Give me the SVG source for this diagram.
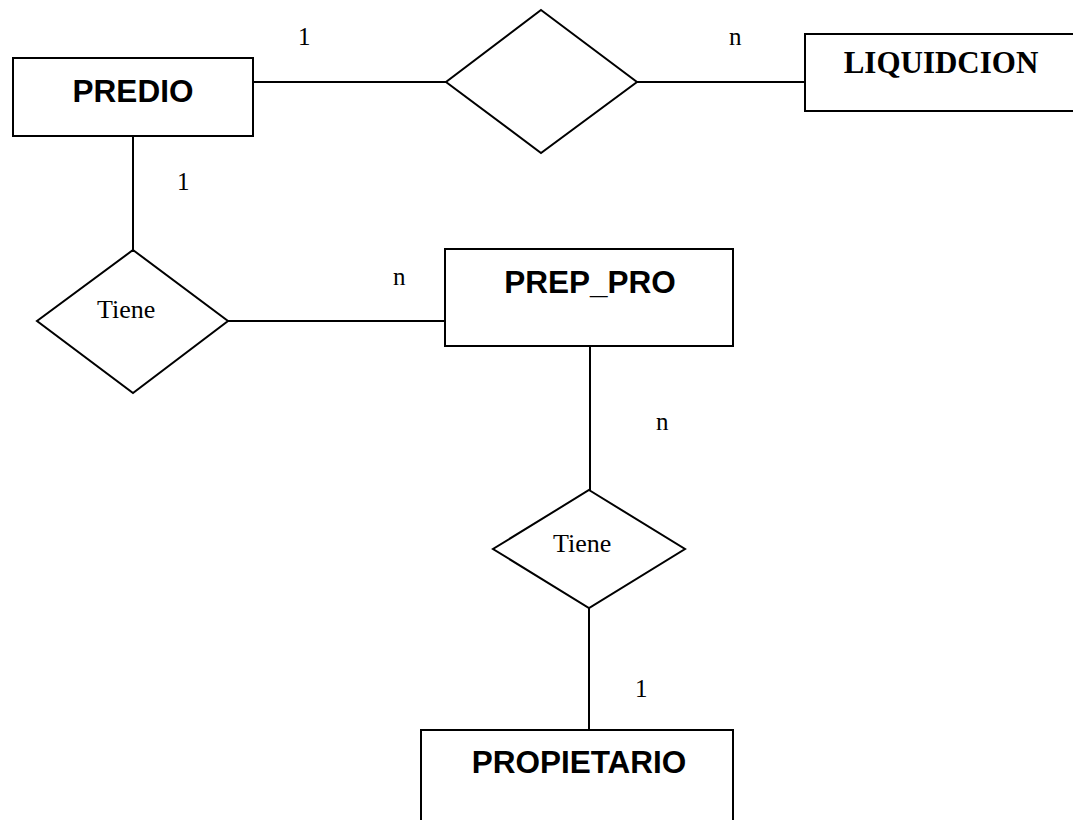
<svg xmlns="http://www.w3.org/2000/svg" width="1073" height="820" viewBox="0 0 1073 820">
  <style>
    .shape { fill: #ffffff; stroke: #000000; stroke-width: 2; }
    .link { fill: none; stroke: #000000; stroke-width: 2; }
    .entity { font-family: "Liberation Sans", Arial, sans-serif; font-weight: bold; font-size: 31.5px; fill: #000; }
    .entity-serif { font-family: "Liberation Serif", "Times New Roman", serif; font-weight: bold; font-size: 31px; fill: #000; }
    .rel { font-family: "Liberation Serif", "Times New Roman", serif; font-size: 26px; fill: #000; }
    .card { font-family: "Liberation Serif", "Times New Roman", serif; font-size: 25px; fill: #000; }
  </style>
  <rect width="1073" height="820" fill="#ffffff"/>

  <!-- connectors -->
  <g id="connectors">
    <line class="link" x1="253" y1="82" x2="446" y2="82"/>
    <line class="link" x1="637" y1="82" x2="812" y2="82"/>
    <line class="link" x1="133" y1="129" x2="133" y2="250"/>
    <line class="link" x1="228" y1="321" x2="445" y2="321"/>
    <line class="link" x1="590" y1="346" x2="590" y2="490"/>
    <line class="link" x1="589" y1="608" x2="589" y2="730"/>
  </g>

  <!-- cardinality labels -->
  <g id="cardinalities">
    <text class="card" x="298" y="45">1</text>
    <text class="card" x="729" y="45">n</text>
    <text class="card" x="177" y="190">1</text>
    <text class="card" x="393" y="285">n</text>
    <text class="card" x="656" y="430">n</text>
    <text class="card" x="635" y="697">1</text>
  </g>

  <g id="predio">
    <rect class="shape" x="13" y="58" width="240" height="78"/>
    <text class="entity" x="133" y="102" text-anchor="middle">PREDIO</text>
  </g>

  <g id="rel-liquidacion">
    <polygon class="shape" points="541,10 637,82 541,153 446,82"/>
  </g>

  <g id="liquidcion">
    <rect class="shape" x="805" y="34" width="280" height="77"/>
    <text class="entity-serif" x="941" y="73" text-anchor="middle">LIQUIDCION</text>
  </g>

  <g id="rel-tiene-predio">
    <polygon class="shape" points="133,250 228,321 133,393 37,321"/>
    <text class="rel" x="97" y="318">Tiene</text>
  </g>

  <g id="prep-pro">
    <rect class="shape" x="445" y="249" width="288" height="97"/>
    <text class="entity" x="590" y="293" text-anchor="middle">PREP_PRO</text>
  </g>

  <g id="rel-tiene-propietario">
    <polygon class="shape" points="589,490 685,549 589,608 493,549"/>
    <text class="rel" x="553" y="552">Tiene</text>
  </g>

  <g id="propietario">
    <rect class="shape" x="421" y="730" width="312" height="100"/>
    <text class="entity" x="579" y="773" text-anchor="middle">PROPIETARIO</text>
  </g>
</svg>
